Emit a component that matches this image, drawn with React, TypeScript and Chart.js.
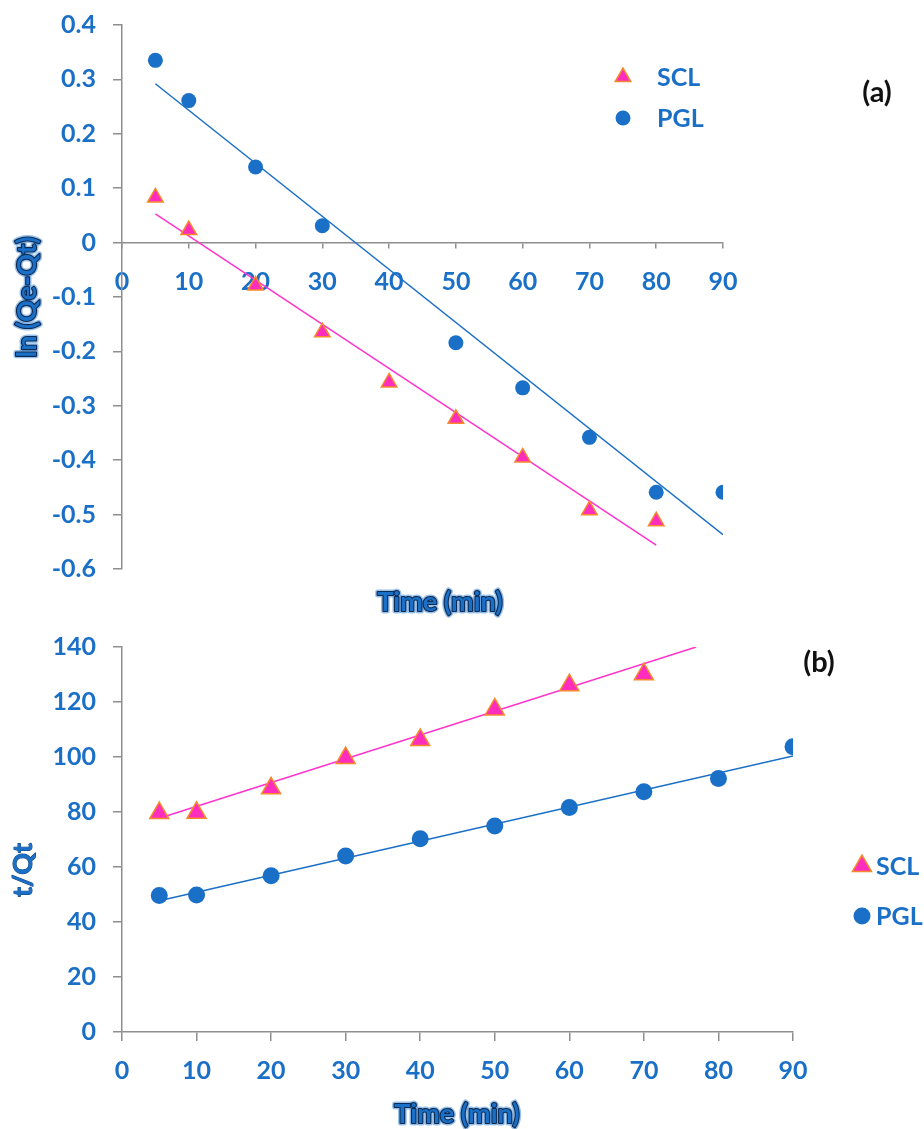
import React, { useEffect, useRef } from "react";
import { Chart, registerables } from "chart.js";

Chart.register(...registerables);

// ---------- colours / fonts ----------
const BLUE = "#1A6FC6";
const PINK = "#FF2DBE";
const PINK_LINE = "#FF33CC";
const ORANGE = "#F58A2A";
const AXIS_GRAY = "#8E8E8E";
const FAMILY = "Lato, 'Open Sans', sans-serif";

// ---------- chart (a): ln(Qe-Qt) vs time ----------
const timeA_SCL = [5, 10, 20, 30, 40, 50, 60, 70, 80];
const lnA_SCL = [0.083, 0.023, -0.079, -0.165, -0.257, -0.324, -0.395, -0.492, -0.512];
const timeA_PGL = [5, 10, 20, 30, 50, 60, 70, 80, 90];
const lnA_PGL = [0.335, 0.261, 0.139, 0.031, -0.184, -0.267, -0.358, -0.459, -0.459];
const fitA_SCL_t = [5, 80];
const fitA_SCL_y = [0.053, -0.556];
const fitA_PGL_t = [5, 90];
const fitA_PGL_y = [0.292, -0.537];
const xTicksA = { min: 0, max: 90, step: 10 };
const yTicksA = { min: -0.6, max: 0.4, step: 0.1 };

// ---------- chart (b): t/Qt vs time ----------
const timeB_SCL = [5, 10, 20, 30, 40, 50, 60, 70];
const tqB_SCL = [79.6, 79.7, 88.6, 99.6, 106.2, 117.3, 126.1, 130.1];
const timeB_PGL = [5, 10, 20, 30, 40, 50, 60, 70, 80, 90];
const tqB_PGL = [49.6, 49.8, 56.8, 64.0, 70.3, 74.9, 81.6, 87.4, 92.2, 103.7];
const fitB_SCL_t = [5, 77];
const fitB_SCL_y = [77.7, 140];
const fitB_PGL_t = [5, 90];
const fitB_PGL_y = [47.7, 100.4];
const xTicksB = { min: 0, max: 90, step: 10 };
const yTicksB = { min: 0, max: 140, step: 20 };

const seriesNames = ["SCL", "PGL"];

const pts = (xs: number[], ys: number[]) => xs.map((x, i) => ({ x, y: ys[i] }));

type TextItem = {
  text: string;
  x: number;
  y: number;
  rotate?: boolean;
  color: string;
  size: number;
  outline?: boolean;
  thin?: boolean;
};
type LegendSpec = { x: number; y: number; gap: number; textX: number; size: number };

function makeDecor(texts: TextItem[], legend: LegendSpec) {
  return {
    id: "decor",
    afterDraw(chart: any) {
      const ctx: CanvasRenderingContext2D = chart.ctx;
      ctx.save();
      for (const t of texts) {
        ctx.save();
        ctx.translate(t.x, t.y);
        if (t.rotate) ctx.rotate(-Math.PI / 2);
        ctx.font = `bold ${t.size}px ${FAMILY}`;
        ctx.textAlign = "center";
        ctx.textBaseline = "middle";
        if (t.outline) {
          ctx.lineJoin = "round";
          ctx.strokeStyle = "rgba(70,140,215,0.55)";
          ctx.lineWidth = 5;
          ctx.strokeText(t.text, 0, 0);
          ctx.strokeStyle = "#0C2A52";
          ctx.lineWidth = 2.2;
          ctx.strokeText(t.text, 0, 0);
        } else if (t.thin) {
          ctx.lineJoin = "round";
          ctx.strokeStyle = "#0F3F78";
          ctx.lineWidth = 1;
          ctx.strokeText(t.text, 0, 0);
        }
        ctx.fillStyle = t.color;
        ctx.fillText(t.text, 0, 0);
        ctx.restore();
      }
      // legend built from the marker datasets
      const items = chart.data.datasets.filter((d: any) => d.isLegend);
      items.forEach((d: any, i: number) => {
        const cy = legend.y + i * legend.gap;
        const cx = legend.x;
        const r = d.pointRadius;
        ctx.beginPath();
        if (d.pointStyle === "triangle") {
          let rad = 0;
          ctx.moveTo(cx + Math.sin(rad) * r, cy - Math.cos(rad) * r);
          rad += (2 * Math.PI) / 3;
          ctx.lineTo(cx + Math.sin(rad) * r, cy - Math.cos(rad) * r);
          rad += (2 * Math.PI) / 3;
          ctx.lineTo(cx + Math.sin(rad) * r, cy - Math.cos(rad) * r);
          ctx.closePath();
        } else {
          ctx.arc(cx, cy, r, 0, Math.PI * 2);
        }
        ctx.fillStyle = d.backgroundColor;
        ctx.fill();
        if (d.borderWidth) {
          ctx.lineWidth = d.borderWidth;
          ctx.strokeStyle = d.borderColor;
          ctx.stroke();
        }
        ctx.font = `bold ${legend.size}px ${FAMILY}`;
        ctx.textAlign = "left";
        ctx.textBaseline = "middle";
        ctx.fillStyle = BLUE;
        ctx.fillText(d.label, legend.textX, cy + 1);
      });
      ctx.restore();
    },
  };
}

const tickFont = { family: FAMILY, size: 25, weight: "bold" as const };

function axisCommon(tickLength: number, padding: number) {
  return {
    grid: {
      display: true,
      drawOnChartArea: false,
      drawTicks: true,
      tickLength,
      color: AXIS_GRAY,
      lineWidth: 1.5,
    },
    border: { display: true, color: AXIS_GRAY, width: 1.5 },
    ticks: {
      color: BLUE,
      font: tickFont,
      padding,
      autoSkip: false,
      maxRotation: 0,
      minRotation: 0,
    },
  };
}

function markerSets(
  sclX: number[], sclY: number[], pglX: number[], pglY: number[],
  triR: number, circR: number
) {
  return [
    {
      label: seriesNames[0],
      isLegend: true,
      data: pts(sclX, sclY),
      pointStyle: "triangle",
      pointRadius: triR,
      pointHoverRadius: triR,
      backgroundColor: PINK,
      borderColor: ORANGE,
      borderWidth: 1.5,
      showLine: false,
    },
    {
      label: seriesNames[1],
      isLegend: true,
      data: pts(pglX, pglY),
      pointStyle: "circle",
      pointRadius: circR,
      pointHoverRadius: circR,
      backgroundColor: BLUE,
      borderColor: BLUE,
      borderWidth: 0,
      showLine: false,
    },
  ];
}

function fitSet(label: string, xs: number[], ys: number[], color: string) {
  return {
    label,
    data: pts(xs, ys),
    showLine: true,
    borderColor: color,
    borderWidth: 1.5,
    pointRadius: 0,
    pointHoverRadius: 0,
    fill: false,
  };
}

const fixY = (s: any) => {
  s.width = 122;
  s.paddingTop = 0;
  s.paddingBottom = 0;
};

function ChartA() {
  const ref = useRef<HTMLCanvasElement>(null);
  useEffect(() => {
    const xa = axisCommon(5, 19);
    const ya = axisCommon(9, 17);
    const chart = new Chart(ref.current!, {
      type: "scatter",
      data: {
        datasets: [
          ...markerSets(timeA_SCL, lnA_SCL, timeA_PGL, lnA_PGL, 9, 7.5),
          fitSet("SCL fit", fitA_SCL_t, fitA_SCL_y, PINK_LINE),
          fitSet("PGL fit", fitA_PGL_t, fitA_PGL_y, BLUE),
        ] as any,
      },
      options: {
        responsive: false,
        animation: false,
        devicePixelRatio: 1,
        layout: { padding: { left: 0, top: 25, right: 201, bottom: 51 } },
        plugins: { legend: { display: false }, tooltip: { enabled: false } },
        scales: {
          x: {
            type: "linear",
            position: { y: 0 } as any,
            min: xTicksA.min,
            max: xTicksA.max,
            ...xa,
            ticks: { ...xa.ticks, stepSize: xTicksA.step },
          },
          y: {
            type: "linear",
            position: "left",
            min: yTicksA.min,
            max: yTicksA.max,
            ...ya,
            ticks: {
              ...ya.ticks,
              stepSize: yTicksA.step,
              callback: (v: any) => String(Math.round(Number(v) * 10) / 10),
            },
            afterFit: fixY,
          },
        },
      } as any,
      plugins: [
        makeDecor(
          [
            { text: "ln (Qe-Qt)", x: 27, y: 297, rotate: true, color: BLUE, size: 27, outline: true },
            { text: "Time (min)", x: 440, y: 602, color: BLUE, size: 27, outline: true },
            { text: "(a)", x: 877, y: 93, color: "#111111", size: 29 },
          ],
          { x: 623, y: 77, gap: 41, textX: 657, size: 25 }
        ),
      ],
    });
    return () => chart.destroy();
  }, []);
  return (
    <canvas
      ref={ref}
      width={924}
      height={620}
      style={{ position: "absolute", left: 0, top: 0, display: "block" }}
    />
  );
}

function ChartB() {
  const ref = useRef<HTMLCanvasElement>(null);
  useEffect(() => {
    const xa = axisCommon(9, 15);
    const ya = axisCommon(9, 17);
    const chart = new Chart(ref.current!, {
      type: "scatter",
      data: {
        datasets: [
          ...markerSets(timeB_SCL, tqB_SCL, timeB_PGL, tqB_PGL, 11, 8.5),
          fitSet("SCL fit", fitB_SCL_t, fitB_SCL_y, PINK_LINE),
          fitSet("PGL fit", fitB_PGL_t, fitB_PGL_y, BLUE),
        ] as any,
      },
      options: {
        responsive: false,
        animation: false,
        devicePixelRatio: 1,
        layout: { padding: { left: 0, top: 27, right: 131, bottom: 0 } },
        plugins: { legend: { display: false }, tooltip: { enabled: false } },
        scales: {
          x: {
            type: "linear",
            position: "bottom",
            min: xTicksB.min,
            max: xTicksB.max,
            ...xa,
            ticks: { ...xa.ticks, stepSize: xTicksB.step },
            afterFit: (s: any) => {
              s.height = 97;
            },
          },
          y: {
            type: "linear",
            position: "left",
            min: yTicksB.min,
            max: yTicksB.max,
            ...ya,
            ticks: { ...ya.ticks, stepSize: yTicksB.step },
            afterFit: fixY,
          },
        },
      } as any,
      plugins: [
        makeDecor(
          [
            { text: "t/Qt", x: 23, y: 250, rotate: true, color: BLUE, size: 27, thin: true },
            { text: "Time (min)", x: 457, y: 494, color: BLUE, size: 27, outline: true },
            { text: "(b)", x: 819, y: 43, color: "#111111", size: 29 },
          ],
          { x: 862, y: 246, gap: 50, textX: 876, size: 25 }
        ),
      ],
    });
    return () => chart.destroy();
  }, []);
  return (
    <canvas
      ref={ref}
      width={924}
      height={509}
      style={{ position: "absolute", left: 0, top: 620, display: "block" }}
    />
  );
}

export default function App() {
  return (
    <div style={{ position: "absolute", left: 0, top: 0, width: 924, height: 1129, background: "#ffffff" }}>
      <ChartA />
      <ChartB />
    </div>
  );
}
